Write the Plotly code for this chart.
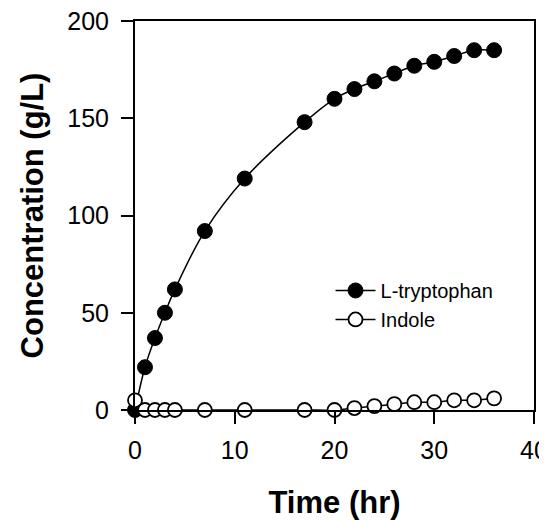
import plotly.graph_objects as go

time_hr = [0, 1, 2, 3, 4, 7, 11, 17, 20, 22, 24, 26, 28, 30, 32, 34, 36]
tryptophan = [0, 22, 37, 50, 62, 92, 119, 148, 160, 165, 169, 173, 177, 179, 182, 185, 185]
indole = [5, 0, 0, 0, 0, 0, 0, 0, 0, 1, 2, 3, 4, 4, 5, 5, 6]

x_ticks = [0, 10, 20, 30, 40]
y_ticks = [0, 50, 100, 150, 200]

FONT = "Liberation Sans, Arial, sans-serif"

fig = go.Figure()
fig.add_trace(go.Scatter(
    x=time_hr, y=tryptophan, name="L-tryptophan", mode="lines+markers",
    line=dict(color="black", width=1.5, shape="spline"),
    marker=dict(symbol="circle", size=15, color="black", line=dict(color="black", width=1)),
    cliponaxis=False,
))
fig.add_trace(go.Scatter(
    x=time_hr, y=indole, name="Indole", mode="lines+markers",
    line=dict(color="black", width=1.5, shape="spline"),
    marker=dict(symbol="circle", size=14, color="white", line=dict(color="black", width=1.8)),
    cliponaxis=False,
))

axis_common = dict(
    showline=True, linecolor="black", linewidth=2, mirror=True,
    ticks="outside", ticklen=12, tickwidth=1.5, tickcolor="black",
    showgrid=False, zeroline=False, automargin=False,
    ticklabeloverflow="allow",
    tickfont=dict(family=FONT, size=25, color="black"),
)

fig.update_xaxes(
    range=[0, 40], tickvals=x_ticks, ticktext=[str(v) for v in x_ticks],
    title=dict(text="<b>Time (hr)</b>", font=dict(family=FONT, size=31, color="black"), standoff=28),
    ticklabelstandoff=5,
    **axis_common,
)
fig.update_yaxes(
    range=[0, 200], tickvals=y_ticks, ticktext=[str(v) for v in y_ticks],
    title=dict(text="<b>Concentration (g/L)</b>", font=dict(family=FONT, size=31, color="black"), standoff=14),
    ticklabelstandoff=7,
    **axis_common,
)

# page body has an 8px default margin, so the figure is sized to fit the window
fig.update_layout(
    width=539, height=512,
    margin=dict(l=127, r=13, t=13, b=110),
    paper_bgcolor="white", plot_bgcolor="white",
    showlegend=True,
    legend=dict(
        x=0.49, y=0.27, xanchor="left", yanchor="middle",
        font=dict(family=FONT, size=20, color="black"),
        bgcolor="rgba(0,0,0,0)", tracegroupgap=0, itemwidth=40,
    ),
)

fig.write_html("out.html")
